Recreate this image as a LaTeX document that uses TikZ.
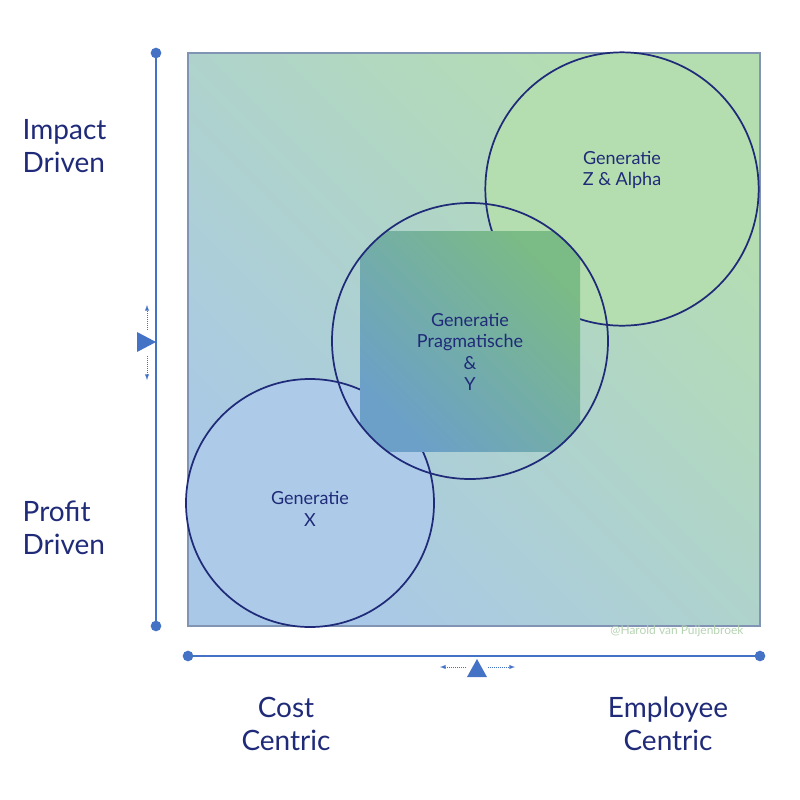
\documentclass[tikz,border=0pt]{standalone}
\usepackage{fontspec}
\setmainfont{Lato}
\definecolor{navy}{HTML}{1F2A78}
\definecolor{axis}{HTML}{4472C4}
\definecolor{gblue}{HTML}{A9C8E8}
\definecolor{ggreen}{HTML}{B5DEB0}
\definecolor{mblue}{HTML}{6CA0C8}
\definecolor{mgreen}{HTML}{7BBB85}
\begin{document}
\begin{tikzpicture}[x=0.75pt,y=-0.75pt,
  big/.style={font=\fontsize{21}{25}\selectfont,text=navy,align=center},
  small/.style={font=\fontsize{13.5}{16}\selectfont,text=navy,align=center},
  circ/.style={draw=navy,line width=1.3pt},
  ax/.style={draw=axis,line width=1.8pt},
  dot/.style={circle,fill=axis,inner sep=0pt,minimum size=8pt},
  tiny/.style={draw=axis,densely dotted,line width=0.5pt,-latex}]
\useasboundingbox (0,0) rectangle (800,800);
\shade[top color=ggreen,bottom color=gblue,shading angle=-45] (188,53) rectangle (760,626);
\draw[draw=axis!50!gray!80,line width=1.5pt] (188,53) rectangle (760,626);
\node[circ,circle,fill=ggreen,minimum size=205pt,inner sep=0pt] (z) at (622,189) {};
\node[small] at (622,170) {Generatie\\Z \& Alpha};
\node[circ,circle,fill=gblue!95!white,minimum size=186pt,inner sep=0pt] (x) at (310,503) {};
\node[small] at (310,509) {Generatie\\X};
\begin{scope}
\clip (470,341) circle[radius=103.5pt];
\shade[top color=mgreen,bottom color=mblue,shading angle=-45] (360,231) rectangle (580,451);
\end{scope}
\node[circ,circle,minimum size=207pt,inner sep=0pt] (y) at (470,341) {};
\node[small] at (470,352) {Generatie\\Pragmatische\\\&\\Y};
\coordinate (vt) at (156,53); \coordinate (vb) at (156,626);
\coordinate (hl) at (188,656); \coordinate (hr) at (760,656);
\draw[ax] (vt) -- (vb); \draw[ax] (hl) -- (hr);
\node[dot] at (vt) {}; \node[dot] at (vb) {}; \node[dot] at (hl) {}; \node[dot] at (hr) {};
\fill[axis] (137,332) -- (156,342) -- (137,352) -- cycle;
\fill[axis] (467,677) -- (477,659) -- (487,677) -- cycle;
\coordinate (a1) at (147,330); \coordinate (a2) at (147,305);
\coordinate (a3) at (147,356); \coordinate (a4) at (147,380);
\draw[tiny] (a1) -- (a2); \draw[tiny] (a3) -- (a4);
\coordinate (b1) at (466,667); \coordinate (b2) at (440,667);
\coordinate (b3) at (488,667); \coordinate (b4) at (515,667);
\draw[tiny] (b1) -- (b2); \draw[tiny] (b3) -- (b4);
\node[big,anchor=west,align=left] at (18,146) {Impact\\Driven};
\node[big,anchor=west,align=left] at (18,528) {Profit\\Driven};
\node[big] at (286,724) {Cost\\Centric};
\node[big] at (668,724) {Employee\\Centric};
\node[font=\fontsize{9}{10}\selectfont,text=ggreen!90!black!80] at (677,631) {@Harold van Puijenbroek};
\end{tikzpicture}
\end{document}
